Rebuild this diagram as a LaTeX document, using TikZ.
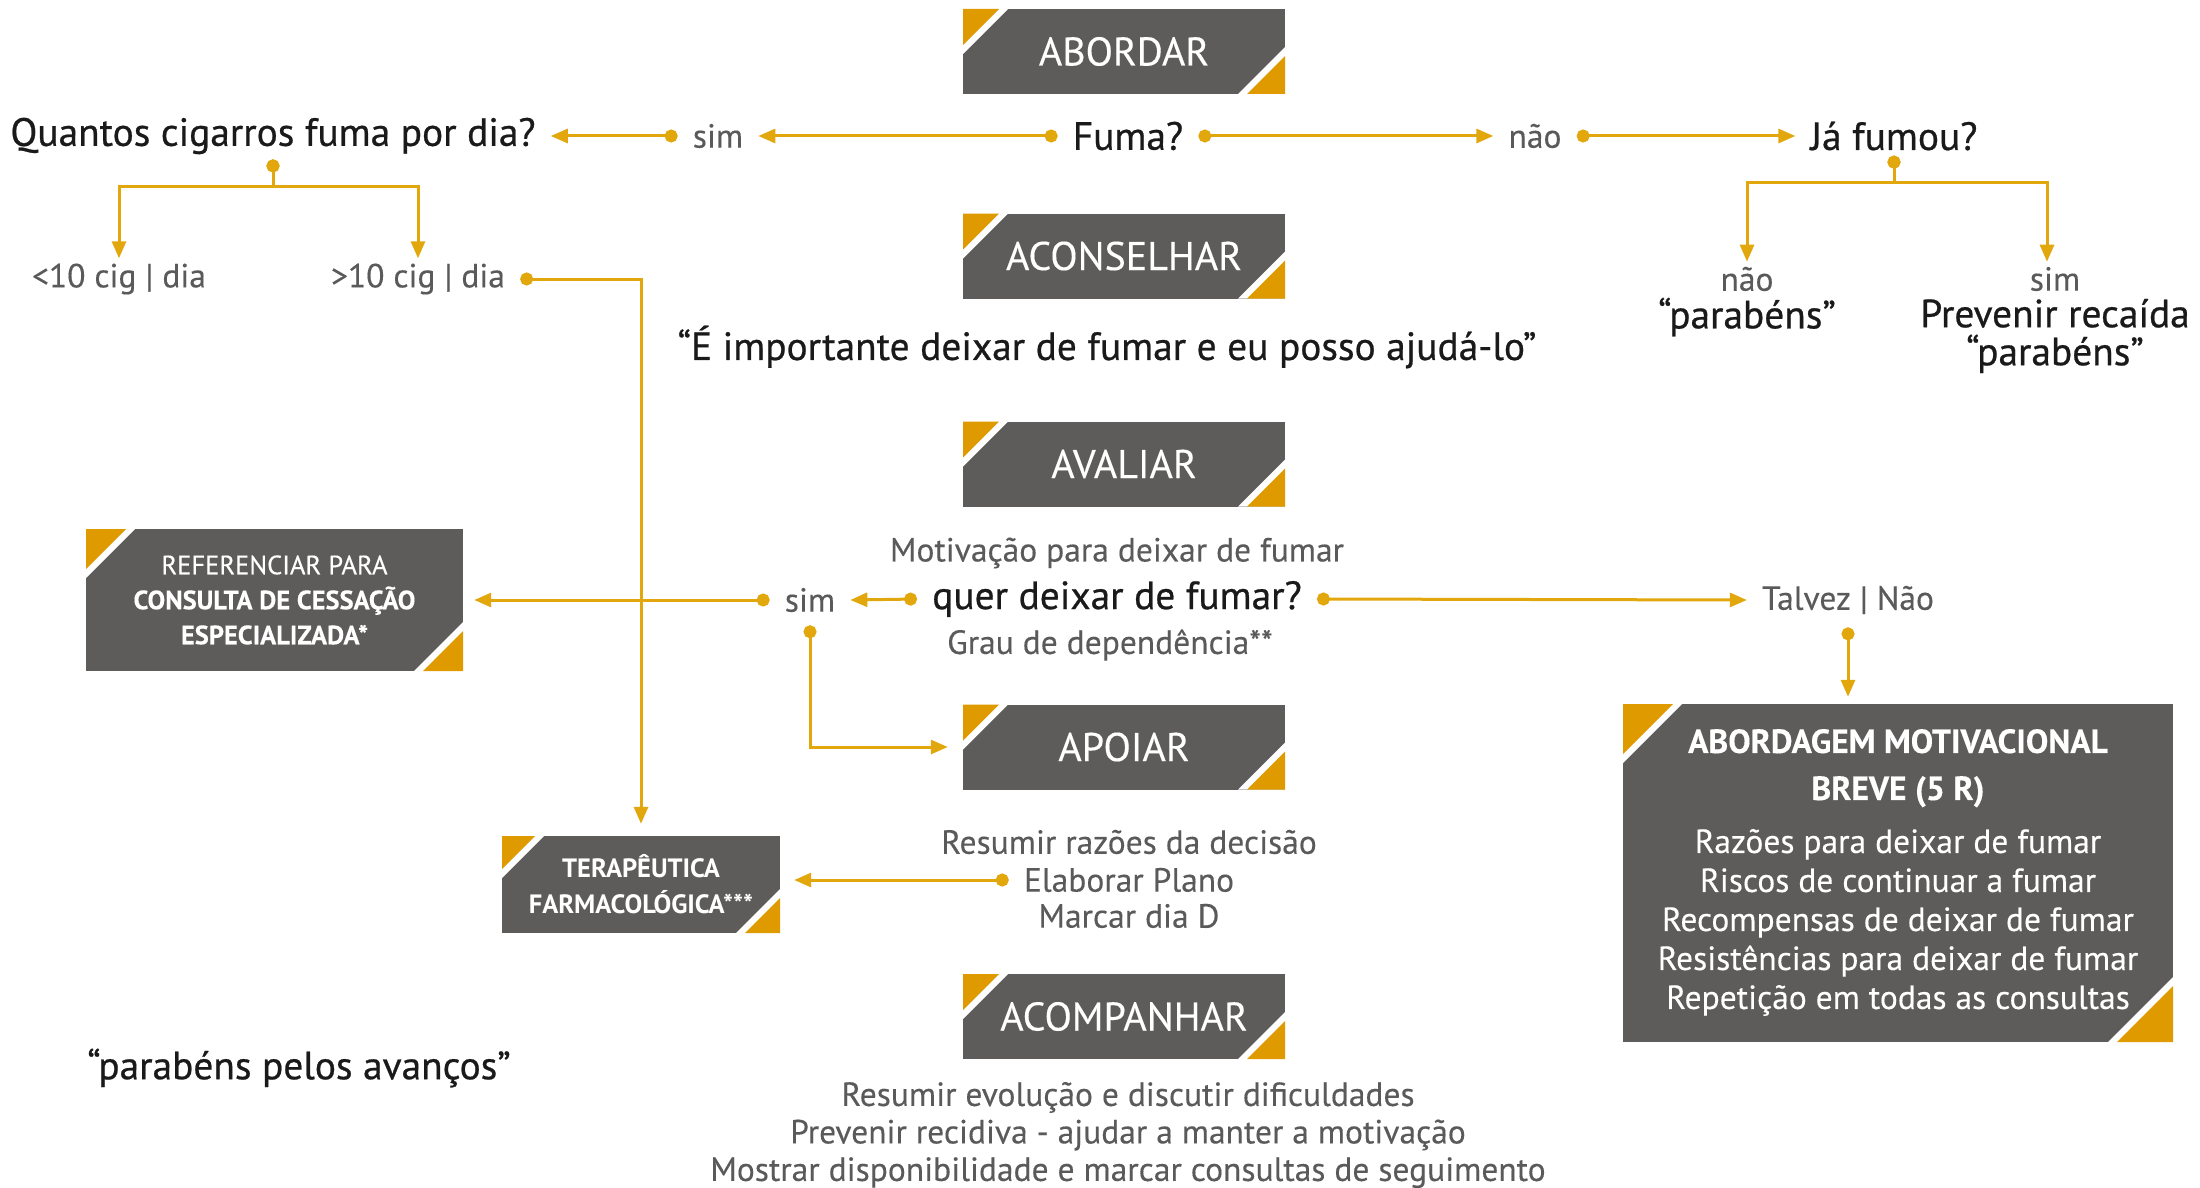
\documentclass[tikz,border=0pt]{standalone}
\usepackage{fontspec}
\setmainfont{PT Sans}
\newfontfamily\medio{PT Sans}[FakeBold=0.6]
\newfontfamily\leve{PT Sans}[FakeBold=0.25]
\usetikzlibrary{arrows.meta,calc}
\definecolor{cinza}{HTML}{5E5C5A}
\definecolor{texto}{HTML}{5A5A5A}
\definecolor{preto}{HTML}{1A1A1A}
\definecolor{ouro}{HTML}{E2A70C}
\definecolor{laranja}{HTML}{DF9A00}
\newcommand\tam[2]{\fontsize{#1}{#2}\selectfont}

\begin{document}
\begin{tikzpicture}[x=1pt,y=-1pt,
  seta/.style={draw=ouro,line width=3pt,{Circle[length=13pt]}-{Triangle[length=17pt,width=14pt]}},
  perg/.style={inner xsep=15pt,inner ysep=5pt,text=preto,font=\medio\tam{39.4}{38}},
  cinz/.style={inner xsep=15pt,inner ysep=5pt,text=texto,font=\leve\tam{33.5}{37.5}},
  caixa/.style 2 args={fill=cinza,text=white,inner sep=0pt,align=center,
    path picture={
      \fill[white]   (path picture bounding box.north west) -- ++({#1+9},0) -- ++({-#1-9},{#1+9}) -- cycle;
      \fill[laranja] (path picture bounding box.north west) -- ++(#1,0) -- ++(-#1,#1) -- cycle;
      \fill[white]   (path picture bounding box.south east) -- ++({-#2-9},0) -- ++({#2+9},{-#2-9}) -- cycle;
      \fill[laranja] (path picture bounding box.south east) -- ++(-#2,0) -- ++(#2,-#2) -- cycle;}},
  etapa/.style={caixa={36}{38},minimum width=322pt,minimum height=85pt,font=\leve\tam{40}{44}}]
  \useasboundingbox (0,0) rectangle (2200,1188);

  \node[etapa] (abordar)    at (1124,51.5)  {ABORDAR};
  \node[etapa] (aconselhar) at (1124,256)   {ACONSELHAR};
  \node[etapa] (avaliar)    at (1124,464)   {AVALIAR};
  \node[etapa] (apoiar)     at (1124,747)   {APOIAR};
  \node[etapa] (acompanhar) at (1124,1016.5){ACOMPANHAR};

  \node[perg] (fuma)    at (1128,136) {Fuma?};
  \node[cinz] (sima)    at (718,136)  {sim};
  \node[perg] (quantos) at (273,136)  {Quantos cigarros fuma por dia?};
  \node[cinz] (naoa)    at (1535,136) {não};
  \node[perg] (jafumou) at (1894,136) {Já fumou?};
  \node[cinz] (menos)   at (119,279)  {<10 cig | dia};
  \node[cinz] (mais)    at (418,279)  {>10 cig | dia};
  \node[cinz] (naob)    at (1747,279) {não};
  \node[perg] (parabensa) at (1747,317) {“parabéns”};
  \node[cinz] (simb)    at (2055,279) {sim};
  \node[perg,align=center] (prevenir) at (2055,336) {Prevenir recaída\\“parabéns”};
  \node[perg] (importante) at (1107,347) {“É importante deixar de fumar e eu posso ajudá-lo”};

  \node[cinz] (motivacao) at (1117,553) {Motivação para deixar de fumar};
  \node[perg] (quer)      at (1117,599) {quer deixar de fumar?};
  \node[cinz] (grau)      at (1110,645) {Grau de dependência**};
  \node[cinz] (simc)      at (810,600)  {sim};
  \node[cinz] (talvez)    at (1848,600) {Talvez | Não};

  \node[caixa={40}{40},minimum width=377pt,minimum height=142pt,font=\leve\tam{26.5}{35}] (referenciar) at (274.5,600)
    {REFERENCIAR PARA\\\textbf{CONSULTA DE CESSAÇÃO}\\\textbf{ESPECIALIZADA*}};
  \node[caixa={33}{35},minimum width=278pt,minimum height=97pt,font=\bfseries\tam{26.5}{36}] (terapeutica) at (641,884.5)
    {TERAPÊUTICA\\FARMACOLÓGICA***};
  \node[caixa={50}{56},minimum width=550pt,minimum height=338pt,font=\leve\tam{33.5}{39}] (motivacional) at (1898,873)
    {\textbf{ABORDAGEM MOTIVACIONAL}\\[8pt]\textbf{BREVE (5 R)}\\[14pt]Razões para deixar de fumar\\Riscos de continuar a fumar\\
     Recompensas de deixar de fumar\\Resistências para deixar de fumar\\Repetição em todas as consultas\\[-31pt]};

  \node[cinz] (resumir)  at (1129,842) {Resumir razões da decisão};
  \node[cinz] (elaborar) at (1129,880) {Elaborar Plano};
  \node[cinz] (marcar)   at (1129,916) {Marcar dia D};
  \node[cinz,align=center] (seguimento) at (1128,1135)
    {Resumir evolução e discutir dificuldades\\Prevenir recidiva - ajudar a manter a motivação\\Mostrar disponibilidade e marcar consultas de seguimento};
  \node[perg] (avancos) at (299,1068) {“parabéns pelos avanços”};

  \draw[seta] (fuma.west) -- (sima.east);
  \draw[seta] (sima.west) -- (quantos.east);
  \draw[seta] (fuma.east) -- (naoa.west);
  \draw[seta] (naoa.east) -- (jafumou.west);
  \draw[seta] (quantos.south) -- ++(0,27) -| (menos.north);
  \draw[seta] (quantos.south) -- ++(0,27) -| (mais.north);
  \draw[seta] (jafumou.south) -- ++(0,27) -| (naob.north);
  \draw[seta] (jafumou.south) -- ++(0,27) -| ([xshift=-8pt]simb.north);
  \draw[seta,shorten >=12pt] (mais.east) -| (terapeutica.north);
  \draw[seta] (quer.west) -- (simc.east);
  \draw[seta,shorten >=11pt] (simc.west) -- (referenciar.east);
  \draw[seta,shorten <=8pt,shorten >=15pt] (simc.south) |- (apoiar.west);
  \draw[seta] (quer.east) -- (talvez.west);
  \draw[seta,shorten <=8pt,shorten >=7pt] (talvez.south) -- (talvez.south |- motivacional.north);
  \draw[seta,shorten >=14pt] (elaborar.west) -- (elaborar.west -| terapeutica.east);
\end{tikzpicture}
\end{document}
